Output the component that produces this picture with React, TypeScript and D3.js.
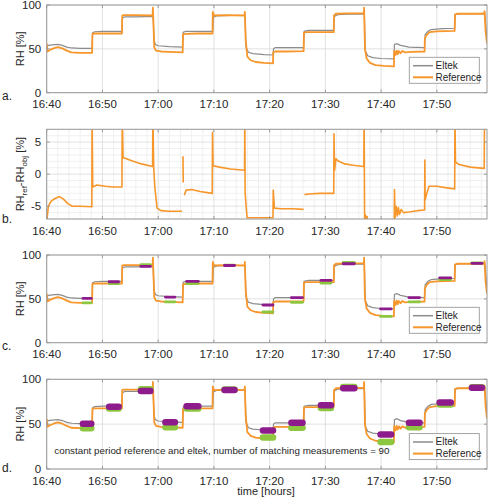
import React from 'react';
import * as d3 from 'd3';

// ---------- data (minutes after 16:40) ----------
const xTickMinutes = [0, 10, 20, 30, 40, 50, 60, 70];
const xTickLabels = ['16:40', '16:50', '17:00', '17:10', '17:20', '17:30', '17:40', '17:50'];
const rhTicks = [0, 50, 100];
const diffTicks = [-5, 0, 5];

const refT = [0, 0.15, 0.5, 1.2, 2.0, 2.8, 3.6, 4.4, 6, 8.15,
  8.2, 8.5, 10, 13.5,
  13.55, 13.8, 16, 19.0, 19.05, 19.1,
  19.3, 19.6, 20.5, 22, 24.4,
  24.45, 25, 27, 29.75,
  29.8, 30.0, 32, 35.5, 35.55,
  35.7, 36.0, 36.6, 37.5, 39, 40.6,
  40.65, 41, 43, 46.1,
  46.15, 46.6, 49, 51.5,
  51.55, 51.9, 54, 56.9, 56.95,
  57.1, 57.4, 58, 59, 60.5, 62.3,
  62.35, 62.6, 62.8, 63.0, 63.2, 63.5, 63.8, 64.3, 65.5, 67.8,
  67.85, 68.2, 68.7, 70, 73.2,
  73.25, 73.6, 76, 78.5, 78.55, 78.75, 79];
const refV = [56, 47, 48.5, 50.5, 52, 50.5, 48, 46, 45.5, 45.5,
  67, 67.5, 67.5, 67.5,
  88, 88.5, 88.5, 88, 97, 88,
  52, 48, 47, 46.5, 46,
  66.5, 67, 67.5, 67.5,
  92, 88, 88.5, 88, 92,
  60, 41, 37, 35, 34, 33.5,
  46, 47, 47, 47.5,
  68.5, 69, 69, 69,
  88, 90, 90.5, 90.5, 97,
  50, 39, 34, 31.5, 30.5, 30,
  48, 43, 48, 44, 47.5, 45, 47.5, 46, 46.5, 47,
  62, 66, 69, 70, 70.5,
  89, 90, 90, 90, 93, 70, 56];

const eltekT = [0, 0.3, 1.0, 2.0, 2.8, 3.6, 4.5, 6, 8.15,
  8.25, 8.6, 10, 13.5,
  13.6, 14, 16, 19.1,
  19.25, 19.5, 20, 22, 24.4,
  24.5, 25, 27, 29.8,
  29.9, 30.5, 33, 35.6,
  35.75, 36.2, 37, 39, 40.6,
  40.7, 41, 43, 46.1,
  46.2, 47, 49, 51.5,
  51.6, 52.2, 54, 57.0,
  57.15, 57.6, 58.5, 60, 62.3,
  62.4, 62.8, 63.5, 65, 67.8,
  67.9, 68.4, 69, 71, 73.2,
  73.3, 74, 76, 78.6, 78.8, 79];
const eltekV = [52, 54, 54.5, 55, 54, 52, 51, 50.5, 50.5,
  68.5, 69.5, 70, 70,
  85, 86.5, 86.5, 87,
  60, 55, 53.5, 52.5, 52,
  69, 70, 70, 70,
  86, 87.5, 88, 88,
  52, 46, 44.5, 43.5, 43,
  50, 51.5, 51.5, 51.5,
  70, 71, 71, 71,
  87, 89, 89.5, 89.5,
  48, 42, 40, 39, 38.5,
  55, 56, 54, 52, 51.5,
  66, 70, 72, 73, 73.5,
  89, 90, 90, 90.5, 75, 62];

// RH_ref - RH_obj; null marks a gap in the record
const diffT = [0, 0.3, 0.8, 1.5, 2.3, 3.0, 3.8, 4.6, 6, 8.1,
  8.15, 8.25, 9, 10.5, 12, 13.5,
  13.55, 13.7, 14.3, 15.5, 17, 19.0,
  19.05, 19.2, 19.4, 19.8, 20.5, 22, 24.3,
  24.35,
  24.45, 24.5,
  24.55,
  24.7, 25.0, 26, 27.5, 29.7,
  29.75, 29.85, 31, 33, 35.5,
  35.55, 35.6, 35.8, 35.95, 38, 40.6,
  40.65, 40.85, 42, 44, 46.1,
  46.12, 46.15, 46.2, 46.22,
  46.25, 47, 49, 51.5,
  51.55, 51.65, 51.9, 52.4, 53.5, 55, 56.9,
  56.95, 57.05, 57.2, 57.35, 57.5, 57.6,
  57.65,
  62.35, 62.4, 62.5, 62.7, 62.9, 63.1, 63.3, 63.6, 64, 65, 66.5, 67.8,
  67.85, 67.9, 68.2, 68.6, 70, 71.5, 73.2,
  73.25, 73.35, 74, 76, 78.5, 78.55];
const diffV: (number | null)[] = [-7.5, -5, -4.2, -3.8, -3.5, -3.9, -4.6, -5, -5, -5.1,
  9, -2, -1.7, -1.9, -2, -2,
  9, 2.6, 2.4, 2, 1.6, 1.2,
  9, 1, -2, -5.3, -5.7, -5.8, -5.8,
  null,
  2.8, -1.3,
  null,
  -3.3, -2.5, -2.4, -2.7, -3,
  6.5, 1.3, 1.1, 0.8, 0.6,
  9, -2.9, -5.2, -6.8, -6.8, -6.8,
  -2.5, -5.3, -5.4, -5.4, -5.5,
  null, -1.1, -1.1, null,
  -3.2, -3.1, -3, -3,
  6.3, 0.6, 2.4, 2.0, 1.6, 1.4, 1.2,
  9, -9, -6.4, -7.5, -6.6, -9,
  null,
  -9, -2.4, -6.8, -5, -6.5, -5.2, -6.3, -5.5, -6, -5.9, -5.7, -5.6,
  2.2, -4, -3, -1.9, -1.9, -2.1, -2.3,
  9, 1.9, 1.5, 1.1, 0.9, 9];

// constant periods
const constStart = [6.5, 11.2, 16.9, 21.3, 25.1, 31.9, 38.8, 43.9, 49.2, 53.2, 59.9, 65.0, 70.5, 76.3];
const constEnd = [8.0, 12.9, 18.6, 23.0, 27.2, 33.7, 40.6, 45.9, 51.0, 55.2, 61.8, 66.9, 72.5, 78.1];
const constEltek = [50.5, 69.5, 87, 52, 70, 88, 43, 51.5, 71, 90, 38.5, 51.5, 74, 90.5];
const constRef = [45.5, 67.5, 89, 46.5, 67.5, 88.5, 35, 46, 68, 91.5, 30, 46.5, 72, 91];

// ---------- styling ----------
const FONT = '"Liberation Sans", Arial, Helvetica, sans-serif';
const ORANGE = '#f7962a';
const GRAY = '#8c8c8c';
const PURPLE = '#8e1b8c';
const GREEN = '#8dc63f';
const AXIS = '#9a9a9a';
const TEXT = '#262626';
const X0 = 46.7, X1 = 487;

const x = d3.scaleLinear().domain([0, 79]).range([X0, X1]);

type Pt = [number, number | null];
const zip = (t: number[], v: (number | null)[]): Pt[] => t.map((d, i) => [d, v[i]]);

interface PanelProps {
  id: string;
  top: number;
  bottom: number;
  domain: [number, number];
  ticks: number[];
  minor?: boolean;
  label: string;
  labelY: number;
  children: (y: d3.ScaleLinear<number, number>) => React.ReactNode;
  ylabel: React.ReactNode;
  legend?: boolean;
}

function Panel({ id, top, bottom, domain, ticks, minor, label, labelY, children, ylabel, legend }: PanelProps) {
  const y = d3.scaleLinear().domain(domain).range([bottom, top]);
  const minorX = minor ? d3.range(0, 79, 2).filter(m => m % 10 !== 0) : [];
  const minorY = minor ? d3.range(domain[0], domain[1] + 0.001, 1).filter(v => v % 5 !== 0) : [];
  const midY = (top + bottom) / 2;
  const lgTop = bottom - 9.4 - 26;
  return (
    <g>
      <defs>
        <clipPath id={id}>
          <rect x={X0} y={top} width={X1 - X0} height={bottom - top} />
        </clipPath>
      </defs>
      <rect x={X0} y={top} width={X1 - X0} height={bottom - top} fill="#fff" />
      {minorX.map(m => (
        <line key={'mx' + m} x1={x(m)} x2={x(m)} y1={top} y2={bottom} stroke="#ececec" strokeWidth={0.8} />
      ))}
      {minorY.map(v => (
        <line key={'my' + v} x1={X0} x2={X1} y1={y(v)} y2={y(v)} stroke="#ececec" strokeWidth={0.8} />
      ))}
      {xTickMinutes.map(m => (
        <line key={'gx' + m} x1={x(m)} x2={x(m)} y1={top} y2={bottom} stroke="#dedede" strokeWidth={0.9} />
      ))}
      {ticks.map(v => (
        <line key={'gy' + v} x1={X0} x2={X1} y1={y(v)} y2={y(v)} stroke="#dedede" strokeWidth={0.9} />
      ))}
      <g clipPath={`url(#${id})`}>{children(y)}</g>
      <rect x={X0} y={top} width={X1 - X0} height={bottom - top} fill="none" stroke={AXIS} strokeWidth={1} />
      {xTickMinutes.map(m => (
        <g key={'tx' + m}>
          <line x1={x(m)} x2={x(m)} y1={bottom} y2={bottom - 3} stroke={AXIS} />
          <line x1={x(m)} x2={x(m)} y1={top} y2={top + 3} stroke={AXIS} />
        </g>
      ))}
      {ticks.map(v => (
        <g key={'ty' + v}>
          <line x1={X0} x2={X0 + 3} y1={y(v)} y2={y(v)} stroke={AXIS} />
          <line x1={X1} x2={X1 - 3} y1={y(v)} y2={y(v)} stroke={AXIS} />
        </g>
      ))}
      {xTickMinutes.map((m, i) => (
        <text key={'lx' + m} x={x(m)} y={bottom + 15.5} textAnchor="middle" fontSize={11.5} fill={TEXT} fontFamily={FONT}>
          {xTickLabels[i]}
        </text>
      ))}
      {ticks.map(v => (
        <text key={'ly' + v} x={X0 - 5.5} y={y(v) + 4} textAnchor="end" fontSize={11.5} fill={TEXT} fontFamily={FONT}>
          {v}
        </text>
      ))}
      <text x={2} y={labelY} fontSize={12} fill={TEXT} fontFamily={FONT}>{label}</text>
      <text transform={`translate(23.5,${midY}) rotate(-90)`} textAnchor="middle" fontSize={11} fill={TEXT} fontFamily={FONT}>
        {ylabel}
      </text>
      {legend && (
        <g>
          <rect x={409.3} y={lgTop} width={70} height={26} fill="#fff" stroke={AXIS} strokeWidth={0.9} />
          <line x1={413} x2={433} y1={lgTop + 8.4} y2={lgTop + 8.4} stroke={GRAY} strokeWidth={1.5} />
          <line x1={413} x2={433} y1={lgTop + 20} y2={lgTop + 20} stroke={ORANGE} strokeWidth={2} />
          <text x={435.5} y={lgTop + 11.8} fontSize={10} fill={TEXT} fontFamily={FONT}>Eltek</text>
          <text x={435.5} y={lgTop + 23.4} fontSize={10} fill={TEXT} fontFamily={FONT}>Reference</text>
        </g>
      )}
    </g>
  );
}

function lineGen(y: d3.ScaleLinear<number, number>) {
  return d3.line<Pt>()
    .defined(d => d[1] != null)
    .x(d => x(d[0]))
    .y(d => y(d[1] as number));
}

function RHLines({ y }: { y: d3.ScaleLinear<number, number> }) {
  const lg = lineGen(y);
  return (
    <g>
      <path d={lg(zip(eltekT, eltekV)) || ''} fill="none" stroke={GRAY} strokeWidth={1.2} />
      <path d={lg(zip(refT, refV)) || ''} fill="none" stroke={ORANGE} strokeWidth={1.8} strokeLinejoin="round" />
    </g>
  );
}

function ConstMarks({ y, w }: { y: d3.ScaleLinear<number, number>; w: number }) {
  return (
    <g>
      {constStart.map((s, i) => (
        <line key={'g' + i} x1={x(s)} x2={x(constEnd[i])} y1={y(constRef[i])} y2={y(constRef[i])}
          stroke={GREEN} strokeWidth={w} strokeLinecap="round" />
      ))}
      {constStart.map((s, i) => (
        <line key={'p' + i} x1={x(s)} x2={x(constEnd[i])} y1={y(constEltek[i])} y2={y(constEltek[i])}
          stroke={PURPLE} strokeWidth={w} strokeLinecap="round" />
      ))}
    </g>
  );
}

const rhLabel = 'RH [%]';

export default function App() {
  return (
    <svg width={490} height={500} style={{ position: 'absolute', left: 0, top: 0, background: '#fff' }}>
      <rect width={490} height={500} fill="#fff" />
      <Panel id="ca" top={5} bottom={92.7} domain={[0, 100]} ticks={rhTicks} label="a." labelY={100}
        ylabel={rhLabel} legend>
        {y => <RHLines y={y} />}
      </Panel>
      <Panel id="cb" top={129.3} bottom={219} domain={[-7, 7]} ticks={diffTicks} minor label="b." labelY={223.3}
        ylabel={<>
          <tspan>RH</tspan>
          <tspan fontSize={8} dy={3}>ref</tspan>
          <tspan dy={-3}>-RH</tspan>
          <tspan fontSize={8} dy={3}>obj</tspan>
          <tspan dy={-3}> [%]</tspan>
        </>}>
        {y => (
          <path d={lineGen(y)(zip(diffT, diffV)) || ''} fill="none" stroke={ORANGE} strokeWidth={1.6} strokeLinejoin="round" />
        )}
      </Panel>
      <Panel id="cc" top={255} bottom={342.7} domain={[0, 100]} ticks={rhTicks} label="c." labelY={350}
        ylabel={rhLabel} legend>
        {y => (
          <g>
            <RHLines y={y} />
            <ConstMarks y={y} w={2.8} />
          </g>
        )}
      </Panel>
      <Panel id="cd" top={379.3} bottom={469} domain={[0, 100]} ticks={rhTicks} label="d." labelY={471.7}
        ylabel={rhLabel} legend>
        {y => (
          <g>
            <RHLines y={y} />
            <ConstMarks y={y} w={6.5} />
            <text x={54.3} y={454} fontSize={9.8} fill={TEXT} fontFamily={FONT}>
              constant period reference and eltek, number of matching measurements = 90
            </text>
          </g>
        )}
      </Panel>
      <text x={266} y={495} textAnchor="middle" fontSize={11} fill={TEXT} fontFamily={FONT}>time [hours]</text>
    </svg>
  );
}
